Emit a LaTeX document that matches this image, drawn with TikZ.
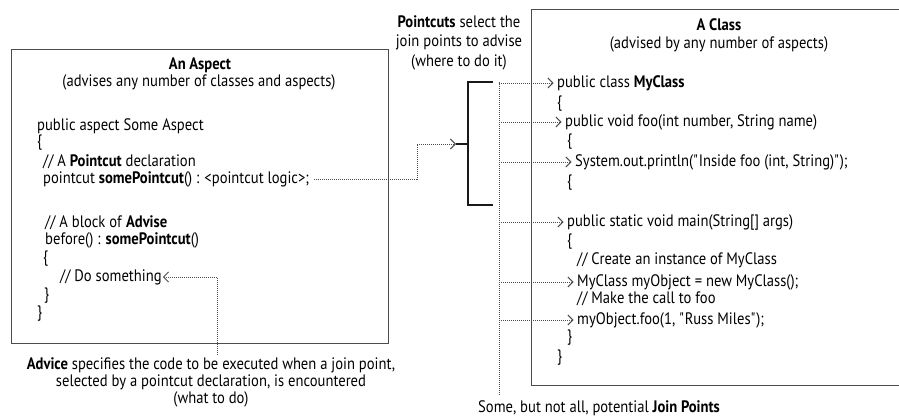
\documentclass[tikz,border=0pt]{standalone}
\usepackage{fontspec}
\setmainfont{PT Sans}[FakeStretch=0.88]
\usetikzlibrary{arrows.meta}
\newcommand{\fs}{\fontsize{16.6}{17}\selectfont}
\begin{document}
\begin{tikzpicture}[x=1pt,y=-1pt,
  txt/.style={anchor=west,inner sep=0pt,font=\fs,text=black},
  ctr/.style={anchor=center,inner sep=0pt,font=\fs,text=black,align=center},
  box/.style={draw=black!70,line width=1.4pt,inner sep=0pt,anchor=north west},
  dot/.style={densely dotted,line width=1pt,draw=black!70},
  tip/.style={-{Straight Barb[length=5pt,width=10pt,line width=0.9pt]}},
  brk/.style={line width=2pt,draw=black!90}]
\useasboundingbox (0,0) rectangle (899,420);
\fill[white] (0,0) rectangle (899,420);
% boxes
\node[box,minimum width=377pt,minimum height=294pt] (aspect) at (11,49) {};
\node[box,minimum width=390pt,minimum height=376pt] (cls) at (531,9) {};
% aspect text
\node[ctr,font=\fs\bfseries] (aT) at (200,65) {An Aspect};
\node[ctr] (aS) at (199,82) {(advises any number of classes and aspects)};
\node[txt] (a1) at (37,126) {public aspect Some Aspect};
\node[txt] (a2) at (37,143) {\{};
\node[txt] (a3) at (43,162) {// A \textbf{Pointcut} declaration};
\node[txt] (a4) at (43,179) {pointcut \textbf{somePointcut}() : <pointcut logic>;};
\node[txt] (a5) at (45,223) {// A block of \textbf{Advise}};
\node[txt] (a6) at (45,240) {before() : \textbf{somePointcut}()};
\node[txt] (a7) at (43,259) {\{};
\node[txt] (a8) at (60,277) {// Do something};
\node[txt] (a9) at (44,296) {\}};
\node[txt] (a10) at (37,314) {\}};
% advice caption
\node[ctr] (adv1) at (211,365) {\textbf{Advice} specifies the code to be executed when a join point,};
\node[ctr] (adv2) at (211,382) {selected by a pointcut declaration, is encountered};
\node[ctr] (adv3) at (211,399) {(what to do)};
% pointcuts caption
\node[ctr] (pc1) at (459,22) {\textbf{Pointcuts} select the};
\node[ctr] (pc2) at (459,42) {join points to advise};
\node[ctr] (pc3) at (459,62) {(where to do it)};
% class text
\node[ctr,font=\fs\bfseries] (cT) at (719,25) {A Class};
\node[ctr] (cS) at (719,44) {(advised by any number of aspects)};
\node[txt] (c1) at (557,83) {public class \textbf{MyClass}};
\node[txt] (c2) at (557,104) {\{};
\node[txt] (c3) at (565,122) {public void foo(int number, String name)};
\node[txt] (c4) at (567,142) {\{};
\node[txt] (c5) at (575,162) {System.out.println(\textquotedbl Inside foo (int, String)\textquotedbl);};
\node[txt] (c6) at (567,183) {\{};
\node[txt] (c7) at (567,222) {public static void main(String[] args)};
\node[txt] (c8) at (567,242) {\{};
\node[txt] (c9) at (577,260) {// Create an instance of MyClass};
\node[txt] (c10) at (577,282) {MyClass myObject = new MyClass();};
\node[txt] (c11) at (577,299) {// Make the call to foo};
\node[txt] (c12) at (577,320) {myObject.foo(1, \textquotedbl Russ Miles\textquotedbl);};
\node[txt] (c13) at (567,338) {\}};
\node[txt] (c14) at (557,358) {\}};
\node[txt] (jp) at (478,408) {Some, but not all, potential \textbf{Join Points}};
% join point dotted spine
\coordinate (vtop) at (499,82);
\coordinate (vbot) at (499,396);
\draw[dot] (vtop) -- (vbot);
\foreach \n in {c1,c3,c5,c7,c10,c12}
  \draw[dot,tip,shorten >=3.5pt] (vtop |- \n.west) -- (\n.west);
% bracket
\coordinate (bt) at (493,82);
\coordinate (bb) at (493,205);
\coordinate (bm) at (468,144);
\coordinate (btip) at (456,144);
\draw[brk] (bt) -- (bt -| bm) -- (bb -| bm) -- (bb);
\draw[brk] (bm) -- (btip);
% pointcut arrow
\coordinate (pk) at (417,182);
\draw[dot,tip] ([xshift=5pt]a4.east) -- (a4.east -| pk) -- (pk |- btip) -- (btip);
% advice arrow
\coordinate (ak) at (217,355);
\draw[dot,tip,shorten >=1pt] (ak) -- (ak |- a8.east) -- (a8.east);
\end{tikzpicture}
\end{document}
